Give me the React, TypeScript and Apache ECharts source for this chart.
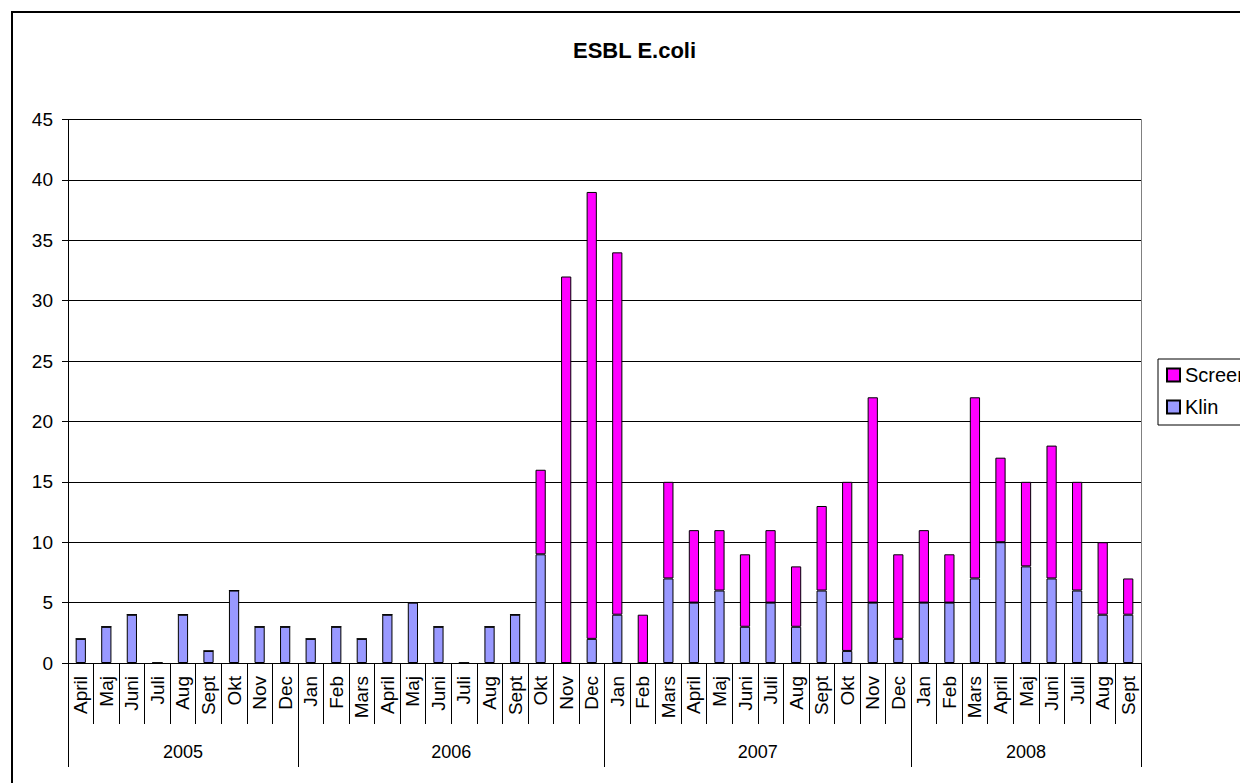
import React, { useEffect, useRef } from "react";
import * as echarts from "echarts";

const months = [
  "April", "Maj", "Juni", "Juli", "Aug", "Sept", "Okt", "Nov", "Dec",
  "Jan", "Feb", "Mars", "April", "Maj", "Juni", "Juli", "Aug", "Sept", "Okt", "Nov", "Dec",
  "Jan", "Feb", "Mars", "April", "Maj", "Juni", "Juli", "Aug", "Sept", "Okt", "Nov", "Dec",
  "Jan", "Feb", "Mars", "April", "Maj", "Juni", "Juli", "Aug", "Sept",
];
const years = ["2005", "2006", "2007", "2008"];
const monthsPerYear = [9, 12, 12, 9];

const klin = [
  2, 3, 4, 0, 4, 1, 6, 3, 3,
  2, 3, 2, 4, 5, 3, 0, 3, 4, 9, 0, 2,
  4, 0, 7, 5, 6, 3, 5, 3, 6, 1, 5, 2,
  5, 5, 7, 10, 8, 7, 6, 4, 4,
];
const screen = [
  0, 0, 0, 0, 0, 0, 0, 0, 0,
  0, 0, 0, 0, 0, 0, 0, 0, 0, 7, 32, 37,
  30, 4, 8, 6, 5, 6, 6, 5, 7, 14, 17, 7,
  6, 4, 15, 7, 7, 11, 9, 6, 3,
];
const yTicks = { min: 0, max: 45, interval: 5 };

const FONT = "'Liberation Sans', Arial, sans-serif";

export default function App() {
  const ref = useRef<HTMLDivElement>(null);
  useEffect(() => {
    if (!ref.current) return;
    const chart = echarts.init(ref.current, null, { renderer: "svg" });
    const bounds: number[] = [0];
    monthsPerYear.forEach((n) => bounds.push(bounds[bounds.length - 1] + n));
    const centers = years.map((_, i) => (bounds[i] + bounds[i + 1]) / 2);
    const total = months.length;

    chart.setOption({
      animation: false,
      backgroundColor: "#fff",
      textStyle: { fontFamily: FONT },
      title: {
        text: "ESBL E.coli",
        left: 573,
        top: 39,
        padding: 0,
        textStyle: { fontSize: 22, fontWeight: "bold", color: "#000", fontFamily: FONT },
      },
      graphic: [
        {
          type: "rect",
          shape: { x: 12, y: 12, width: 1260, height: 800 },
          style: { fill: "none", stroke: "#000", lineWidth: 2 },
          silent: true,
          z: 100,
        },
      ],
      legend: {
        orient: "vertical",
        left: 1158,
        top: 359,
        data: ["Screen", "Klin"],
        itemWidth: 13,
        itemHeight: 13,
        itemGap: 12,
        padding: [6, 8, 8, 8],
        borderColor: "#000",
        borderWidth: 1,
        icon: "rect",
        textStyle: { fontSize: 20, color: "#000", fontFamily: FONT },
      },
      grid: { left: 68, top: 119.5, right: 99, bottom: 120, containLabel: false },
      xAxis: [
        {
          type: "category",
          data: months,
          position: "bottom",
          axisLine: { show: true, lineStyle: { color: "#000", width: 1 } },
          axisTick: { show: true, interval: 0, length: 61, lineStyle: { color: "#000" } },
          axisLabel: {
            interval: 0,
            rotate: 90,
            margin: 13,
            fontSize: 19,
            color: "#000",
            fontFamily: FONT,
          },
          splitLine: { show: false },
        },
        {
          type: "value",
          min: 0,
          max: total,
          position: "bottom",
          axisLine: { show: false },
          splitLine: { show: false },
          axisTick: {
            show: true,
            length: 104,
            customValues: bounds,
            lineStyle: { color: "#000" },
          },
          axisLabel: {
            show: true,
            customValues: centers,
            margin: 80,
            fontSize: 18,
            color: "#000",
            fontFamily: FONT,
            formatter: (v: number) => {
              const i = centers.indexOf(v);
              return i >= 0 ? years[i] : "";
            },
          },
        },
      ],
      yAxis: [
        {
          type: "value",
          min: yTicks.min,
          max: yTicks.max,
          interval: yTicks.interval,
          axisLine: { show: true, lineStyle: { color: "#000" } },
          axisTick: { show: true, length: 6, lineStyle: { color: "#000" } },
          axisLabel: { fontSize: 19, color: "#000", margin: 15, fontFamily: FONT },
          splitLine: { show: true, lineStyle: { color: "#000", width: 1 } },
        },
        {
          type: "value",
          position: "right",
          min: yTicks.min,
          max: yTicks.max,
          interval: yTicks.interval,
          axisLine: { show: true, lineStyle: { color: "#808080" } },
          axisTick: { show: false },
          axisLabel: { show: false },
          splitLine: { show: false },
        },
      ],
      series: [
        {
          name: "Klin",
          type: "bar",
          stack: "total",
          data: klin,
          barWidth: "40%",
          itemStyle: { color: "#9999FF", borderColor: "#000", borderWidth: 1 },
        },
        {
          name: "Screen",
          type: "bar",
          stack: "total",
          data: screen,
          barWidth: "40%",
          itemStyle: { color: "#FF00FF", borderColor: "#000", borderWidth: 1 },
        },
      ],
    });
    return () => chart.dispose();
  }, []);
  return (
    <div
      ref={ref}
      style={{ position: "fixed", left: 0, top: 0, width: 1240, height: 783, background: "#fff" }}
    />
  );
}
